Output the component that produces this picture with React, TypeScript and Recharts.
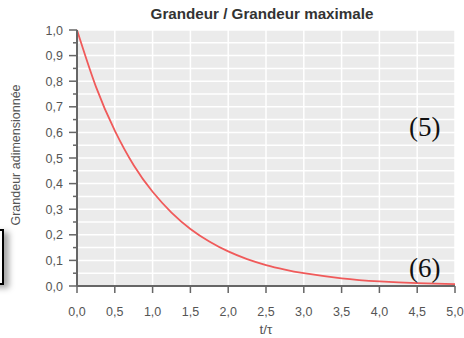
import React from "react";
import { LineChart, Line, XAxis, YAxis, CartesianGrid, ReferenceDot } from "recharts";

const tValues = [0, 0.25, 0.5, 0.75, 1, 1.25, 1.5, 1.75, 2, 2.25, 2.5, 2.75, 3, 3.5, 4, 4.5, 5];
const grandeur = [1, 0.779, 0.607, 0.472, 0.368, 0.287, 0.223, 0.174, 0.135, 0.105, 0.082, 0.064, 0.05, 0.03, 0.018, 0.011, 0.007];

const xTicks = [0, 0.5, 1, 1.5, 2, 2.5, 3, 3.5, 4, 4.5, 5];
const yTicks = [0, 0.05, 0.1, 0.15, 0.2, 0.25, 0.3, 0.35, 0.4, 0.45, 0.5, 0.55, 0.6, 0.65, 0.7, 0.75, 0.8, 0.85, 0.9, 0.95, 1];

const data = tValues.map((t, i) => ({ t, g: grandeur[i] }));

const fmt = (v: number) => v.toFixed(1).replace(".", ",");
const FONT = "'Liberation Sans', Arial, sans-serif";

const YTick = (props: any) => {
  const { x, y, payload, index } = props;
  const major = index % 2 === 0;
  return (
    <g>
      <line x1={x - (major ? 8 : 4)} x2={x} y1={y} y2={y} stroke="#666" strokeWidth={1.5} />
      {major && (
        <text x={x - 14} y={y} dy={4.5} textAnchor="end" fontSize={12.5} fill="#555" fontFamily={FONT}>
          {fmt(payload.value)}
        </text>
      )}
    </g>
  );
};

const XTick = (props: any) => {
  const { x, y, payload } = props;
  return (
    <g>
      <line x1={x} x2={x} y1={y} y2={y + 7} stroke="#666" strokeWidth={1.5} />
      <text x={x} y={y + 30} textAnchor="middle" fontSize={12.5} fill="#555" fontFamily={FONT}>
        {fmt(payload.value)}
      </text>
    </g>
  );
};

const tag = (text: string) => (props: any) => {
  const { viewBox } = props;
  return (
    <text x={viewBox.x} y={viewBox.y} dy={9} textAnchor="middle" fontSize={27} fill="#111" fontFamily="'Liberation Serif', 'DejaVu Serif', serif">
      {text}
    </text>
  );
};

export default function App() {
  return (
    <div style={{ position: "absolute", left: 0, top: 0, width: 464, height: 338, background: "#fff", overflow: "hidden" }}>
      <div style={{ position: "absolute", left: 0, top: 0, zIndex: 1 }}>
        <LineChart width={464} height={338} data={data} margin={{ top: 30, right: 9, bottom: 0, left: 0 }}>
          <CartesianGrid fill="#ebebeb" stroke="#fff" strokeWidth={1.5} />
          <XAxis
            dataKey="t"
            type="number"
            domain={[0, 5]}
            ticks={xTicks}
            height={52}
            tickSize={0}
            tickMargin={0}
            tickLine={false}
            tick={<XTick />}
            axisLine={{ stroke: "#666", strokeWidth: 2 }}
            interval={0}
          />
          <YAxis
            type="number"
            domain={[0, 1]}
            ticks={yTicks}
            width={77}
            tickSize={0}
            tickMargin={0}
            tickLine={false}
            tick={<YTick />}
            axisLine={{ stroke: "#666", strokeWidth: 2 }}
            interval={0}
          />
          <Line type="natural" dataKey="g" stroke="#f05a5a" strokeWidth={1.8} dot={false} isAnimationActive={false} />
          <ReferenceDot x={4.6} y={0.62} r={0} fill="none" stroke="none" label={tag("(5)")} />
          <ReferenceDot x={4.6} y={0.07} r={0} fill="none" stroke="none" label={tag("(6)")} />
        </LineChart>
      </div>
      <svg width={464} height={338} style={{ position: "absolute", left: 0, top: 0, zIndex: 2, pointerEvents: "none" }}>
        <text x={262} y={19} textAnchor="middle" fontSize={15.2} fontWeight="bold" fill="#333" fontFamily={FONT}>
          Grandeur / Grandeur maximale
        </text>
        <text x={20} y={155} transform="rotate(-90 20 155)" textAnchor="middle" fontSize={12.5} fill="#555" fontFamily={FONT}>
          Grandeur adimensionnée
        </text>
        <text x={266} y={334} textAnchor="middle" fontSize={13.5} fill="#555" fontFamily={FONT}>
          t/τ
        </text>
      </svg>
      <div
        style={{
          position: "absolute",
          left: -18,
          top: 229,
          width: 18,
          height: 52,
          border: "2px solid #000",
          background: "#fff",
          boxShadow: "5px 3px 6px rgba(0,0,0,0.35)",
          zIndex: 3,
        }}
      />
    </div>
  );
}
